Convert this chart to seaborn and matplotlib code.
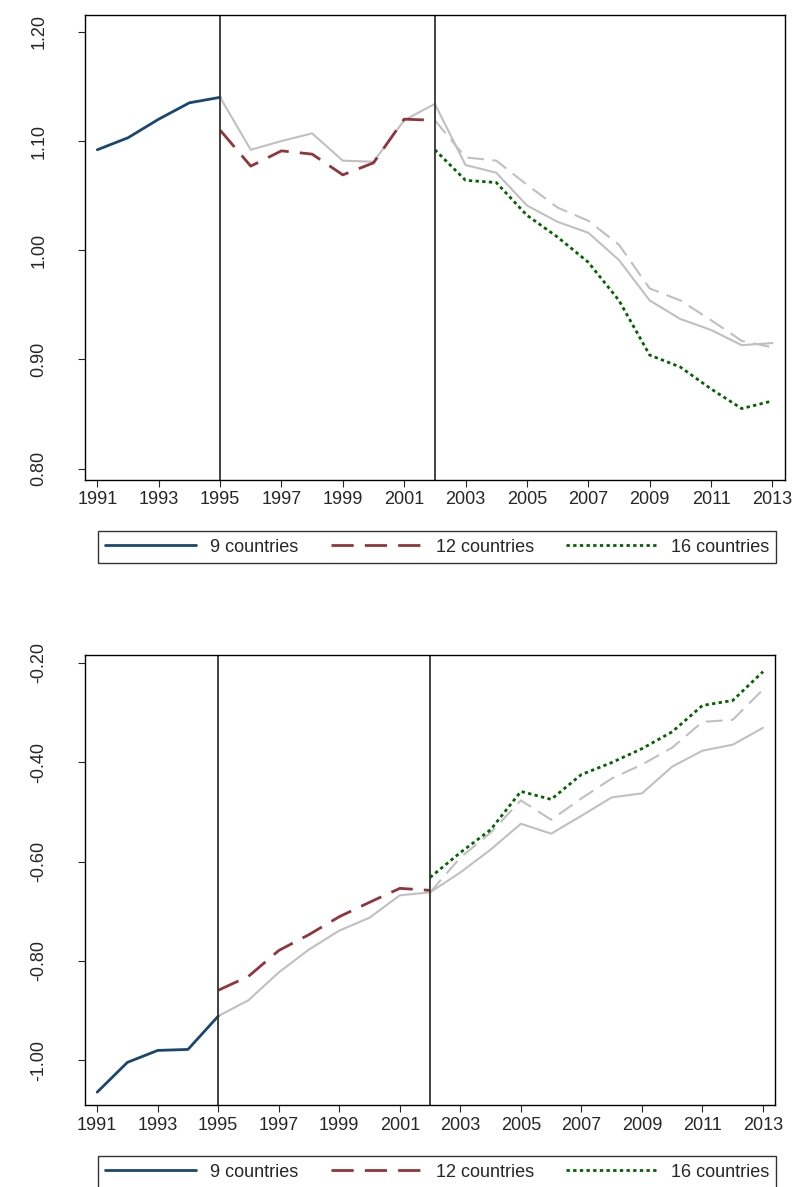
import matplotlib
matplotlib.use("Agg")
import matplotlib.pyplot as plt
import seaborn as sns

sns.set_style("white")
plt.rcParams['font.family'] = ['Liberation Sans', 'DejaVu Sans']

years = list(range(1991, 2014))
yr9 = years[0:5]
yr12 = years[4:12]
yr_all = years[4:]
yr16 = years[11:]

# top panel
top_9 = [1.092, 1.103, 1.120, 1.135, 1.140]
top_12 = [1.110, 1.077, 1.091, 1.088, 1.069, 1.080, 1.120, 1.119]
top_grey = [1.140, 1.092, 1.100, 1.107, 1.082, 1.081, 1.119, 1.134, 1.078, 1.071,
            1.041, 1.026, 1.016, 0.991, 0.954, 0.937, 0.927, 0.913, 0.915]
top_grey_dash = [1.119, 1.085, 1.082, 1.060, 1.039, 1.027, 1.005, 0.965, 0.954, 0.936, 0.917, 0.911]
top_16 = [1.092, 1.064, 1.062, 1.032, 1.012, 0.989, 0.954, 0.904, 0.893, 0.873, 0.855, 0.862]

# bottom panel
bot_9 = [-1.064, -1.004, -0.980, -0.978, -0.911]
bot_12 = [-0.859, -0.831, -0.779, -0.747, -0.711, -0.682, -0.654, -0.658]
bot_grey = [-0.911, -0.879, -0.823, -0.777, -0.739, -0.713, -0.668, -0.662, -0.622, -0.576,
            -0.524, -0.544, -0.508, -0.471, -0.463, -0.409, -0.377, -0.365, -0.331]
bot_grey_dash = [-0.662, -0.592, -0.542, -0.477, -0.516, -0.473, -0.433, -0.405, -0.371, -0.319, -0.315, -0.254]
bot_16 = [-0.632, -0.582, -0.536, -0.459, -0.475, -0.425, -0.401, -0.373, -0.339, -0.286, -0.276, -0.218]

navy = "#1a476f"
red = "#90353b"
green = "#006400"
grey = "#c0c0c0"

fig = plt.figure(figsize=(7.95, 11.87), dpi=100)
ax1 = fig.add_axes([0.107, 0.596, 0.880, 0.391])
ax2 = fig.add_axes([0.107, 0.069, 0.868, 0.379])


def draw(ax, d9, d12, dg, dgd, d16, yticks, ylim, leg_y):
    sns.lineplot(x=yr_all, y=dg, ax=ax, color=grey, lw=1.5)
    ax.plot(yr16, dgd, color=grey, lw=1.5, linestyle=(0, (8, 4)))
    sns.lineplot(x=yr9, y=d9, ax=ax, color=navy, lw=2)
    ax.plot(yr12, d12, color=red, lw=2, linestyle=(0, (8, 4)))
    ax.plot(yr16, d16, color=green, lw=2, linestyle=(0, (1.2, 1.2)))
    ax.axvline(1995, color="#333333", lw=1.3)
    ax.axvline(2002, color="#333333", lw=1.3)
    ax.set_xlim(1990.6, 2013.4)
    ax.set_ylim(*ylim)
    ax.set_xticks(range(1991, 2014, 2))
    ax.set_yticks(yticks)
    ax.set_yticklabels([f"{v:.2f}" for v in yticks], rotation=90, va="center")
    ax.tick_params(axis="both", direction="out", length=5, labelsize=13, left=True, bottom=True)
    ax.tick_params(axis="y", pad=22)
    for s in ax.spines.values():
        s.set_color("black")
        s.set_linewidth(1)
    h = [plt.Line2D([], [], color=navy, lw=2),
         plt.Line2D([], [], color=red, lw=2, linestyle=(0, (8, 4))),
         plt.Line2D([], [], color=green, lw=2, linestyle=(0, (1.2, 1.2)))]
    fig.legend(h, ["9 countries", "12 countries", "16 countries"], ncol=3,
               loc="center", bbox_to_anchor=(0.55, leg_y), fontsize=13, frameon=True,
               fancybox=False, edgecolor="black", handlelength=5, columnspacing=1.8)


draw(ax1, top_9, top_12, top_grey, top_grey_dash, top_16,
     [0.80, 0.90, 1.00, 1.10, 1.20], (0.79, 1.215), 0.539)
draw(ax2, bot_9, bot_12, bot_grey, bot_grey_dash, bot_16,
     [-1.00, -0.80, -0.60, -0.40, -0.20], (-1.09, -0.185), 0.0125)

fig.savefig("out.png", dpi=100)
